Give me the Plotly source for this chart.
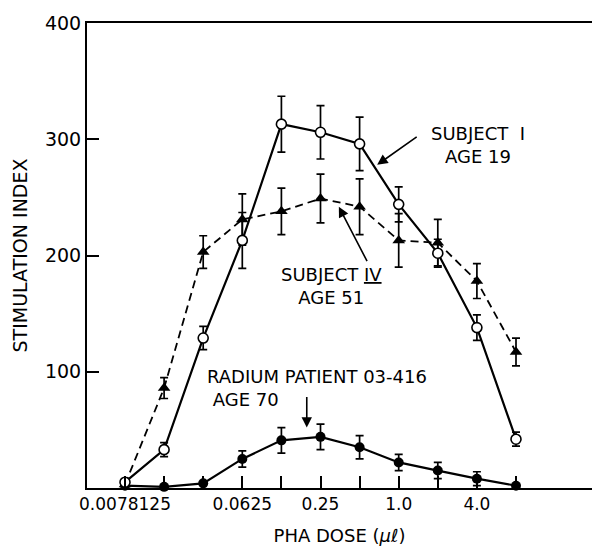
import plotly.graph_objects as go
import math

# ---- data ----
doses = [0.0078125, 0.015625, 0.03125, 0.0625, 0.125, 0.25, 0.5, 1.0, 2.0, 4.0, 8.0]
tick_labels = ["0.0078125", "", "", "0.0625", "", "0.25", "", "1.0", "", "4.0", ""]
y_tickvals = [100, 200, 300, 400]

subj1 = [5, 33, 129, 213, 313, 306, 296, 244, 202, 138, 42]
subj1_err = [0, 6, 10, 24, 24, 23, 23, 15, 12, 11, 6]

subj4 = [3, 86, 203, 231, 238, 249, 242, 213, 211, 178, 117]
subj4_err = [0, 9, 14, 22, 20, 21, 24, 23, 20, 15, 12]

radium = [2, 1, 4, 25, 41, 44, 35, 22, 15, 8, 2]
radium_err = [0, 0, 0, 7, 11, 11, 10, 7, 7, 6, 0]

FONT = "DejaVu Sans"

fig = go.Figure()

err_style = dict(type="data", visible=True, thickness=1.7, width=4, color="black")

fig.add_trace(go.Scatter(
    x=doses, y=radium, mode="lines+markers",
    line=dict(color="black", width=2.2),
    marker=dict(symbol="circle", size=10, color="black"),
    error_y=dict(array=radium_err, **err_style),
    cliponaxis=False, showlegend=False))

fig.add_trace(go.Scatter(
    x=doses, y=subj4, mode="lines+markers",
    line=dict(color="black", width=1.8, dash="8px,5px"),
    marker=dict(symbol="triangle-up", size=11, color="black"),
    error_y=dict(array=subj4_err, **err_style),
    cliponaxis=False, showlegend=False))

fig.add_trace(go.Scatter(
    x=doses, y=subj1, mode="lines+markers",
    line=dict(color="black", width=2.2),
    marker=dict(symbol="circle", size=10, color="white", line=dict(color="black", width=1.6)),
    error_y=dict(array=subj1_err, **err_style),
    cliponaxis=False, showlegend=False))

ann_font = dict(family=FONT, size=18, color="black")
arrow_common = dict(showarrow=True, arrowhead=2, arrowsize=1.3, arrowwidth=1.6,
                    arrowcolor="black", text="", xref="x", yref="y")

annotations = [
    dict(x=math.log10(4.1), y=295, xref="x", yref="y", text="SUBJECT  I<br>AGE 19",
         showarrow=False, font=ann_font, align="center"),
    dict(x=math.log10(0.683), y=278, ax=41, ay=-29, **arrow_common),
    dict(x=math.log10(0.305), y=174, xref="x", yref="y", text="SUBJECT <u>IV</u><br>AGE 51",
         showarrow=False, font=ann_font, align="center"),
    dict(x=math.log10(0.346), y=242, ax=29, ay=56, **arrow_common),
    dict(x=math.log10(0.0323), y=86, xref="x", yref="y", xanchor="left",
         text="RADIUM PATIENT 03-416<br>\u00a0AGE 70",
         showarrow=False, font=ann_font, align="left"),
    dict(x=math.log10(0.196), y=52, ax=0, ay=-32, **arrow_common),
]

fig.update_layout(
    width=592, height=550,
    margin=dict(l=87, r=0, t=23, b=62),
    paper_bgcolor="white", plot_bgcolor="white",
    font=dict(family=FONT, color="black"),
    annotations=annotations,
    xaxis=dict(
        type="log", range=[-2.39977, 1.4882],
        tickmode="array", tickvals=doses, ticktext=tick_labels,
        ticks="inside", ticklen=12, tickwidth=2, tickcolor="black",
        showline=True, linewidth=2, linecolor="black", mirror=True,
        showgrid=False, zeroline=False,
        tickfont=dict(family=FONT, size=17, color="black"),
        title=dict(text="PHA DOSE (<i>μℓ</i>)", font=dict(family=FONT, size=18, color="black"), standoff=16),
    ),
    yaxis=dict(
        range=[0, 400],
        tickmode="array", tickvals=y_tickvals, ticktext=[str(v) for v in y_tickvals],
        ticks="inside", ticklen=12, tickwidth=2, tickcolor="black",
        showline=True, linewidth=2, linecolor="black",
        showgrid=False, zeroline=False,
        tickfont=dict(family=FONT, size=19, color="black"),
        title=dict(text="STIMULATION INDEX", font=dict(family=FONT, size=19, color="black"), standoff=12),
    ),
)

fig.write_html("out.html")
